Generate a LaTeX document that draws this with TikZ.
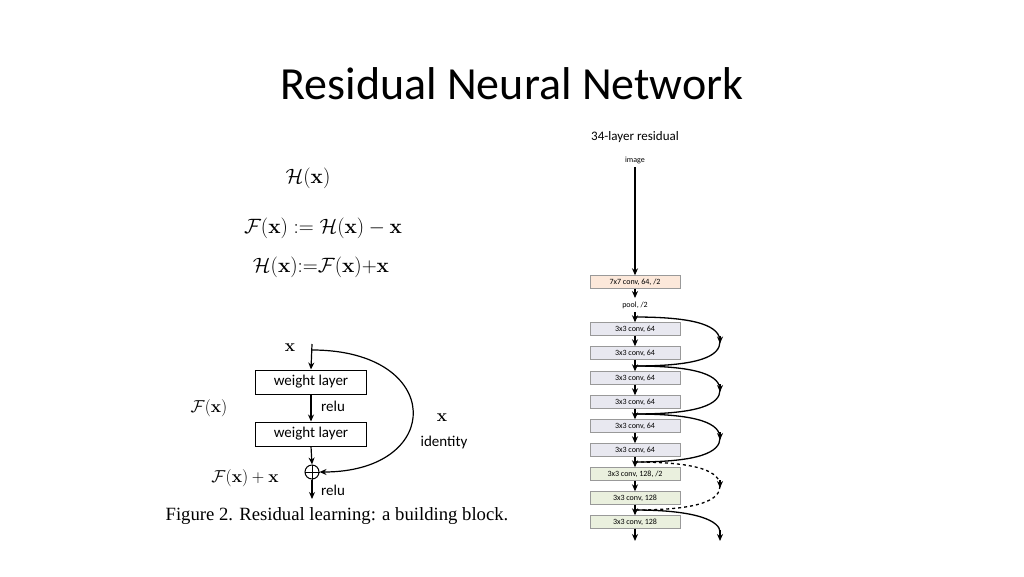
\documentclass[tikz,border=0pt]{standalone}
\usepackage{amsmath}
\usepackage{amssymb}
\usepackage{bm}
\usepackage[no-math]{fontspec}
\setmainfont{Carlito}
\newfontfamily\timesf{Liberation Serif}
\usetikzlibrary{arrows.meta}
\definecolor{peach}{RGB}{252,232,218}
\definecolor{lav}{RGB}{232,232,240}
\definecolor{pale}{RGB}{234,240,222}
\tikzset{
  blk/.style={draw=gray!80, minimum width=90pt, minimum height=13pt, inner sep=0pt, font=\fontsize{8}{9}\selectfont},
  wl/.style={draw, line width=1pt, minimum width=111pt, minimum height=24pt, inner sep=0pt, font=\fontsize{15}{17}\selectfont},
  arr/.style={-{Stealth[length=7pt,width=6pt]}, line width=1.3pt},
  thinarr/.style={-{Stealth[length=7pt,width=6pt]}, draw=black, line width=1.2pt},
}
\begin{document}
\begin{tikzpicture}[x=1pt,y=-1pt]
\useasboundingbox (0,0) rectangle (1024,576);
\node[font=\fontsize{46}{50}\selectfont] (title) at (512,84) {Residual Neural Network};
% equations
\node[font=\fontsize{20}{22}\selectfont] (h) at (308,178) {$\mathcal{H}(\mathbf{x})$};
\node[font=\fontsize{20}{22}\selectfont] (f) at (323,228) {$\mathcal{F}(\mathbf{x}) := \mathcal{H}(\mathbf{x}) - \mathbf{x}$};
\node[font=\fontsize{20}{22}\selectfont] (g) at (321,267) {$\mathcal{H}(\mathbf{x}) {:=} \mathcal{F}(\mathbf{x}) {+} \mathbf{x}$};
% building block
\coordinate (xin) at (312,344);
\node[wl] (w1) at (311,382) {weight layer};
\node[wl] (w2) at (311,434) {weight layer};
\node[circle, draw, line width=1pt, inner sep=0pt, minimum size=14pt] (plus) at (312,472) {};
\draw[line width=1pt] (plus.north) -- (plus.south) (plus.west) -- (plus.east);
\coordinate (out) at (312,499);
\draw[thinarr] (xin) -- (w1.north);
\draw[thinarr] (w1.south) -- (w2.north);
\draw[thinarr] (w2.south) -- (plus.north);
\draw[thinarr] (plus.south) -- (out);
\draw[thinarr] (312,350) .. controls (445,350) and (445,472) .. (plus.east);
\node[font=\fontsize{18}{20}\selectfont] (lx) at (290,348) {$\mathbf{x}$};
\node[font=\fontsize{15}{17}\selectfont] (r1) at (333,406) {relu};
\node[font=\fontsize{15}{17}\selectfont] (r2) at (333,490) {relu};
\node[font=\fontsize{18}{20}\selectfont] (lf) at (209,408) {$\mathcal{F}(\mathbf{x})$};
\node[font=\fontsize{18}{20}\selectfont] (lx2) at (442,418) {$\mathbf{x}$};
\node[font=\fontsize{15}{17}\selectfont] (lid) at (444,442) {identity};
\node[font=\fontsize{18}{20}\selectfont] (lfx) at (245,478) {$\mathcal{F}(\mathbf{x}) + \mathbf{x}$};
\node[font=\timesf\fontsize{18.7}{20}\selectfont] (cap) at (337,516) {Figure 2. Residual learning: a building block.};
% 34-layer residual
\node[font=\fontsize{13}{15}\selectfont] (head) at (635,137) {34-layer residual};
\node[font=\fontsize{8}{9}\selectfont] (img) at (635,160) {image};
\node[blk, fill=peach] (c0) at (635,282) {7x7 conv, 64, /2};
\node[font=\fontsize{8}{9}\selectfont] (pool) at (635,305) {pool, /2};
\foreach \i/\y/\t/\c in {1/329/{3x3 conv, 64}/lav, 2/353/{3x3 conv, 64}/lav, 3/378/{3x3 conv, 64}/lav,
  4/402/{3x3 conv, 64}/lav, 5/426/{3x3 conv, 64}/lav, 6/450/{3x3 conv, 64}/lav,
  7/474/{3x3 conv, 128, /2}/pale, 8/498/{3x3 conv, 128}/pale, 9/522/{3x3 conv, 128}/pale}
  \node[blk, fill=\c] (c\i) at (635,\y) {\t};
\coordinate (end) at (635,541);
\draw[arr] (img) -- (c0);
\draw[arr] (c0) -- (pool);
\draw[arr] (pool) -- (c1);
\foreach \a/\b in {1/2,2/3,3/4,4/5,5/6,6/7,7/8,8/9} \draw[arr] (c\a) -- (c\b);
\draw[arr] (c9) -- (end);
% shortcuts
\foreach \ya/\yb/\s in {317/366/solid, 366/414/solid, 414/462/solid, 462/510/dashed} {
  \draw[line width=1.3pt, \s] (635,\ya) .. controls (700,\ya) and (720,\ya+10) .. (720,\ya/2+\yb/2);
  \draw[arr, solid] (720,\ya/2+\yb/2-6) -- (720,\ya/2+\yb/2+2);
  \draw[line width=1.3pt, \s] (720,\ya/2+\yb/2) .. controls (720,\yb-10) and (700,\yb) .. (635,\yb);
}
\draw[line width=1.3pt] (635,510) .. controls (700,510) and (720,522) .. (720,532);
\draw[arr] (720,530) -- (720,541);
\end{tikzpicture}
\end{document}
